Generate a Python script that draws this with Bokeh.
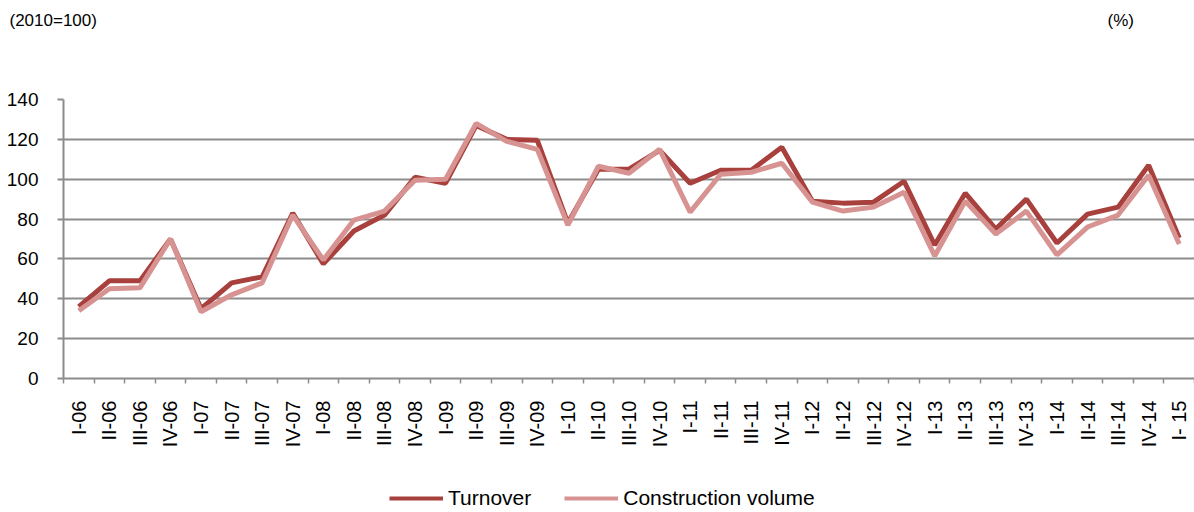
import math
from bokeh.plotting import figure
from bokeh.layouts import column
from bokeh.models import Range1d, FixedTicker, Legend, LegendItem, ColumnDataSource
from bokeh.core.properties import value
from bokeh.embed import file_html
from bokeh.resources import INLINE

# ---- data ----
quarters = ["I-06", "II-06", "III-06", "IV-06",
            "I-07", "II-07", "III-07", "IV-07",
            "I-08", "II-08", "III-08", "IV-08",
            "I-09", "II-09", "III-09", "IV-09",
            "I-10", "II-10", "III-10", "IV-10",
            "I-11", "II-11", "III-11", "IV-11",
            "I-12", "II-12", "III-12", "IV-12",
            "I-13", "II-13", "III-13", "IV-13",
            "I-14", "II-14", "III-14", "IV-14",
            "I- 15"]
turnover = [36, 49, 49, 70,
            35, 48, 51, 83,
            57.5, 74, 82, 101,
            98, 127, 120, 119.5,
            78, 105, 105, 114.5,
            98, 104.5, 104.5, 116,
            89, 88, 88.5, 99,
            67, 93, 75, 90,
            68, 82.5, 86, 107,
            70.5]
construction = [34, 45, 45.5, 70,
                33.5, 42, 48, 82,
                59.5, 79.5, 84, 99.5,
                100, 128, 119, 115,
                77, 106.5, 103, 115,
                83.5, 102.5, 103.5, 108,
                88.5, 84, 86, 93.5,
                61.5, 89, 72.5, 84,
                62, 76, 82, 102,
                67.5]
y_ticks = [0, 20, 40, 60, 80, 100, 120, 140]
series_names = ["Turnover", "Construction volume"]
unit_left = "(2010=100)"
unit_right = "(%)"

n = len(quarters)
xpos = [i + 0.5 for i in range(n)]
src = ColumnDataSource(dict(x=xpos, t=turnover, c=construction))

GRID = "#8c8c8c"
C_TURN = "#A8413D"
C_CONS = "#D79391"
FONT = "Liberation Sans"
W = 1194


def bare(fig):
    fig.outline_line_color = None
    fig.xgrid.visible = False
    fig.ygrid.visible = False
    fig.frame_align = False


# ---- header with unit texts ----
head = figure(width=W, height=60, output_backend="svg", toolbar_location=None,
              x_range=Range1d(0, W), y_range=Range1d(0, 60),
              x_axis_type=None, y_axis_type=None, min_border=0)
bare(head)
head.text(x=[9], y=[40], text=[unit_left], text_baseline="middle",
          text_font=value(FONT), text_font_size="17px", text_color="black")
head.text(x=[1107], y=[40], text=[unit_right], text_baseline="middle",
          text_font=value(FONT), text_font_size="17px", text_color="black")

# ---- main chart ----
p = figure(width=W, height=395, output_backend="svg", toolbar_location=None,
           x_range=Range1d(0, n), y_range=Range1d(0, 140),
           min_border_left=63, min_border_right=0, min_border_top=39,
           min_border_bottom=77)
p.outline_line_color = None
p.frame_align = False

p.line("x", "t", source=src, line_color=C_TURN, line_width=5)
p.line("x", "c", source=src, line_color=C_CONS, line_width=5)

xa = p.xaxis[0]
xa.ticker = FixedTicker(ticks=xpos, minor_ticks=list(range(n + 1)))
xa.major_label_overrides = {x: q for x, q in zip(xpos, quarters)}
xa.major_label_orientation = math.pi / 2
xa.major_tick_line_color = None
xa.major_tick_out = 5
xa.major_tick_in = 0
xa.minor_tick_out = 5
xa.minor_tick_in = 0
xa.minor_tick_line_color = GRID
xa.minor_tick_line_width = 1.5
xa.axis_line_color = GRID
xa.axis_line_width = 2
xa.major_label_standoff = 17
xa.major_label_text_font = FONT
xa.major_label_text_font_size = "20px"
xa.major_label_text_color = "black"

ya = p.yaxis[0]
ya.ticker = FixedTicker(ticks=y_ticks)
ya.major_tick_out = 6
ya.major_tick_in = 0
ya.minor_tick_line_color = None
ya.major_tick_line_color = GRID
ya.major_tick_line_width = 2
ya.axis_line_color = GRID
ya.axis_line_width = 2
ya.major_label_standoff = 19
ya.major_label_text_font = FONT
ya.major_label_text_font_size = "19px"
ya.major_label_text_color = "black"

p.xgrid.grid_line_color = None
p.ygrid.grid_line_color = GRID
p.ygrid.grid_line_width = 2

# ---- footer with legend ----
foot = figure(width=W, height=57, output_backend="svg", toolbar_location=None,
              x_range=Range1d(0, 1), y_range=Range1d(0, 1),
              x_axis_type=None, y_axis_type=None, min_border=0)
bare(foot)
# samples lie outside the footer's visible range: only the legend shows them
l1 = foot.line(x=[5, 6], y=[5, 5], line_color=C_TURN, line_width=4)
l2 = foot.line(x=[5, 6], y=[5, 5], line_color=C_CONS, line_width=4)
legend = Legend(items=[LegendItem(label=series_names[0], renderers=[l1]),
                       LegendItem(label=series_names[1], renderers=[l2])],
                orientation="horizontal", location=(389, 2),
                glyph_width=54, glyph_height=20, label_height=20,
                label_standoff=5, spacing=33, padding=0, margin=0,
                border_line_color=None, background_fill_alpha=0,
                label_text_font=FONT, label_text_font_size="21px",
                label_text_color="black")
legend.item_background_fill_alpha = 0
foot.add_layout(legend, "center")

layout = column(head, p, foot, spacing=0)
open("out.html", "w").write(file_html(layout, INLINE))
